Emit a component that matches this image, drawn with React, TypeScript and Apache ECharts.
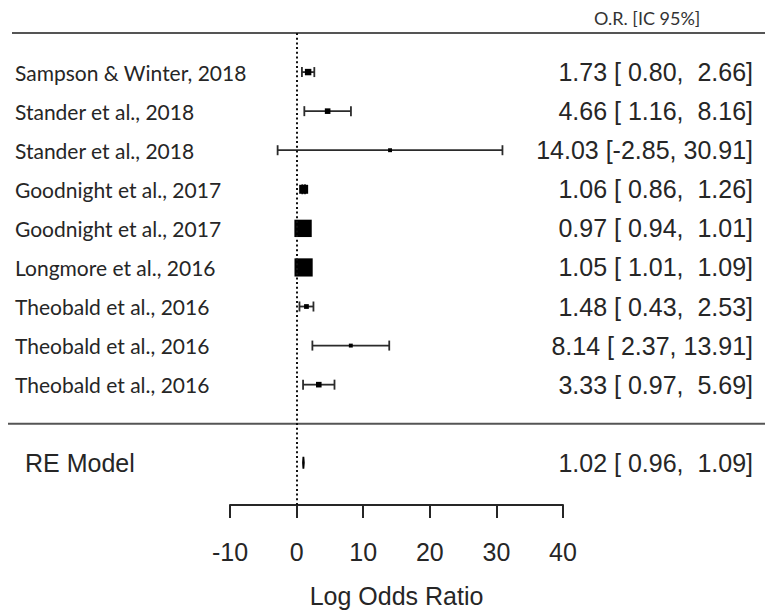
import React, { useEffect, useRef } from "react";
import * as echarts from "echarts";

// ---- data ----
const studies = [
  "Sampson & Winter, 2018",
  "Stander et al., 2018",
  "Stander et al., 2018",
  "Goodnight et al., 2017",
  "Goodnight et al., 2017",
  "Longmore et al., 2016",
  "Theobald et al., 2016",
  "Theobald et al., 2016",
  "Theobald et al., 2016",
];
const estimates = [1.73, 4.66, 14.03, 1.06, 0.97, 1.05, 1.48, 8.14, 3.33];
const lowerCI = [0.8, 1.16, -2.85, 0.86, 0.94, 1.01, 0.43, 2.37, 0.97];
const upperCI = [2.66, 8.16, 30.91, 1.26, 1.01, 1.09, 2.53, 13.91, 5.69];
const weights = [7, 5, 1, 13, 33, 35, 3, 1, 5];
const reLabel = "RE Model";
const reEstimate = 1.02;
const reLower = 0.96;
const reUpper = 1.09;
const columnHeader = "O.R. [IC 95%]";
const axisTitle = "Log Odds Ratio";
const xMin = -10;
const xMax = 40;
const xStep = 10;

const fmt = (v: number) => v.toFixed(2);
const pad = (s: string, n: number) => s.padStart(n, " ");
const ciText = (e: number, l: number, u: number) =>
  `${fmt(e)} [${pad(fmt(l), 5)}, ${pad(fmt(u), 5)}]`;

const INK = "#262626";
const ARIAL = "'Liberation Sans', Arial, sans-serif";
const LABEL_FONT = "Lato, 'Open Sans', sans-serif";

export default function App() {
  const ref = useRef<HTMLDivElement>(null);
  useEffect(() => {
    if (!ref.current) return;
    const chart = echarts.init(ref.current, undefined, { renderer: "svg" });
    const nRows = studies.length;
    const reRow = nRows + 2;
    const sepRow = nRows + 1;

    const studyData = studies.map((s, i) => [estimates[i], i + 1, lowerCI[i], upperCI[i], weights[i]]);
    const textData = studies.map((s, i) => ({ value: [0, i + 1], name: s, ci: ciText(estimates[i], lowerCI[i], upperCI[i]) }));
    textData.push({ value: [0, reRow], name: reLabel, ci: ciText(reEstimate, reLower, reUpper) });

    chart.setOption({
      animation: false,
      title: {
        text: columnHeader,
        left: 589,
        top: 4,
        textStyle: { fontFamily: LABEL_FONT, fontSize: 18, fontWeight: "normal", color: "#333" },
      },
      grid: { left: 230, top: 33, width: 333, height: 474 },
      xAxis: {
        type: "value",
        position: "bottom",
        min: xMin,
        max: xMax,
        interval: xStep,
        splitLine: { show: false },
        axisLine: { show: true, onZero: false, lineStyle: { color: INK, width: 2 } },
        axisTick: { show: true, length: 13, lineStyle: { color: INK, width: 2 } },
        axisLabel: { fontFamily: ARIAL, fontSize: 25, color: INK, margin: 34 },
        name: axisTitle,
        nameLocation: "middle",
        nameGap: 78,
        nameTextStyle: { fontFamily: ARIAL, fontSize: 25, color: INK },
      },
      yAxis: {
        type: "value",
        min: 0,
        max: 12.08,
        inverse: true,
        show: false,
      },
      series: [
        {
          type: "custom",
          name: "rules",
          data: [[0, 0], [0, sepRow]],
          silent: true,
          renderItem: (params: any, api: any) => {
            const y = api.coord([0, api.value(1)])[1];
            const isTop = params.dataIndex === 0;
            return {
              type: "line",
              shape: { x1: isTop ? 12 : 8, y1: y, x2: 765, y2: y },
              style: { stroke: "#555", lineWidth: 2 },
            };
          },
        },
        {
          type: "custom",
          name: "studies",
          data: studyData,
          silent: true,
          markLine: {
            silent: true,
            symbol: "none",
            label: { show: false },
            lineStyle: { color: "#111", type: [2, 2.7], width: 2 },
            data: [{ xAxis: 0 }],
          },
          renderItem: (params: any, api: any) => {
            const e = api.coord([api.value(0), api.value(1)]);
            const l = api.coord([api.value(2), api.value(1)]);
            const u = api.coord([api.value(3), api.value(1)]);
            const s = 3.5 + api.value(4) * 0.42;
            const y = e[1];
            const cap = 5;
            const ls = { stroke: "#2b2b2b", lineWidth: 1.8 };
            return {
              type: "group",
              children: [
                { type: "line", shape: { x1: l[0], y1: y, x2: u[0], y2: y }, style: ls },
                { type: "line", shape: { x1: l[0], y1: y - cap, x2: l[0], y2: y + cap }, style: ls },
                { type: "line", shape: { x1: u[0], y1: y - cap, x2: u[0], y2: y + cap }, style: ls },
                { type: "rect", shape: { x: e[0] - s / 2, y: y - s / 2, width: s, height: s }, style: { fill: "#000" } },
              ],
            };
          },
        },
        {
          type: "custom",
          name: "re",
          data: [[reEstimate, reRow, reLower, reUpper]],
          silent: true,
          renderItem: (params: any, api: any) => {
            const e = api.coord([api.value(0), api.value(1)]);
            const l = api.coord([api.value(2), api.value(1)]);
            const u = api.coord([api.value(3), api.value(1)]);
            const h = 6;
            return {
              type: "polygon",
              shape: { points: [[l[0], e[1]], [e[0], e[1] - h], [u[0], e[1]], [e[0], e[1] + h]] },
              style: { fill: "#000", stroke: "#000", lineWidth: 1.8 },
            };
          },
        },
        {
          type: "custom",
          name: "texts",
          data: textData,
          silent: true,
          renderItem: (params: any, api: any) => {
            const y = api.coord([0, api.value(1)])[1];
            const item = textData[params.dataIndex];
            const isRE = params.dataIndex === textData.length - 1;
            return {
              type: "group",
              children: [
                {
                  type: "text",
                  x: isRE ? 25 : 15,
                  y,
                  style: {
                    text: item.name,
                    fill: INK,
                    font: isRE ? `25px ${ARIAL}` : `21px ${LABEL_FONT}`,
                    align: "left",
                    verticalAlign: "middle",
                  },
                },
                {
                  type: "text",
                  x: 753,
                  y,
                  style: {
                    text: item.ci,
                    fill: INK,
                    font: `25px ${ARIAL}`,
                    align: "right",
                    verticalAlign: "middle",
                  },
                },
              ],
            };
          },
        },
      ],
    });
    return () => chart.dispose();
  }, []);
  return <div ref={ref} style={{ position: "fixed", left: 0, top: 0, width: 765, height: 613, background: "#fff" }} />;
}
